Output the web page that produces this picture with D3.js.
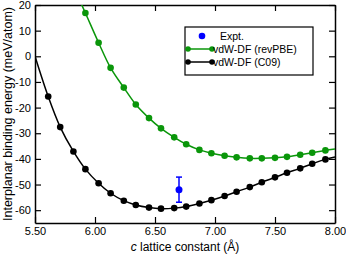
<!DOCTYPE html>
<html>
<head>
<meta charset="utf-8">
<script src="https://cdn.jsdelivr.net/npm/d3@7"></script>
<style>
  html, body { margin: 0; padding: 0; background: #fff; }
  svg { display: block; }
</style>
</head>
<body>
<div id="chart"></div>
<script>
// values
const c09X = [5.61, 5.71, 5.82, 5.92, 6.03, 6.13, 6.24, 6.34, 6.45, 6.55, 6.66, 6.76, 6.87, 6.97, 7.08, 7.18, 7.29, 7.39, 7.50, 7.60, 7.71, 7.81, 7.92];
const c09Y = [-15.7, -27.6, -37.1, -44.0, -49.5, -53.4, -56.3, -58.0, -59.0, -59.4, -59.2, -58.6, -57.4, -56.1, -54.5, -52.8, -51.0, -49.1, -47.2, -45.4, -43.7, -41.9, -40.2];
// where the C09 fitted curve meets the frame
const c09Edge = [[5.50, 0.0], [8.00, -39.3]];

const revX = [5.92, 6.03, 6.13, 6.24, 6.34, 6.45, 6.55, 6.66, 6.76, 6.87, 6.97, 7.08, 7.18, 7.29, 7.39, 7.50, 7.60, 7.71, 7.81, 7.92];
const revY = [16.9, 5.3, -4.5, -12.2, -18.8, -24.1, -28.1, -31.6, -34.3, -36.5, -37.8, -38.8, -39.4, -39.8, -39.8, -39.6, -39.2, -38.4, -37.6, -36.7];
const revEdge = [[5.88, 21.0], [8.00, -36.1]];

const exptX = [6.70];
const exptY = [-52.0];
const exptErr = [4.9];

const xTicks = [5.5, 6.0, 6.5, 7.0, 7.5, 8.0];
const yTicks = [-60, -50, -40, -30, -20, -10, 0, 10, 20];

const legendLabels = ['Expt.', 'vdW-DF (revPBE)', 'vdW-DF (C09)'];

const colors = { c09: '#000000', rev: '#0a960a', expt: '#0000ff' };

const width = 346, height = 255;
const margin = { top: 5, right: 11, bottom: 31, left: 35 };
const font = 'Liberation Sans, Arial, sans-serif';

const svg = d3.select('#chart').append('svg')
  .attr('width', width)
  .attr('height', height);

const x = d3.scaleLinear().domain([5.5, 8.0]).range([margin.left, width - margin.right]);
const y = d3.scaleLinear().domain([-65, 20]).range([height - margin.bottom - 1, margin.top]);

svg.append('defs').append('clipPath').attr('id', 'plot-clip')
  .append('rect')
  .attr('x', x(5.5)).attr('y', y(20))
  .attr('width', x(8.0) - x(5.5)).attr('height', y(-65) - y(20));

// axes: ticks inward, mirrored on top / right
const minorX = d3.range(5.5, 8.01, 0.25);
const minorY = d3.range(-65, 20.01, 5);

function tickAxis(axisFn, scale, ticks, size) {
  return axisFn(scale).tickValues(ticks).tickSizeInner(size).tickSizeOuter(0).tickFormat('');
}

const gx = svg.append('g').attr('transform', `translate(0,${y(-65)})`);
gx.call(tickAxis(d3.axisTop, x, minorX, 3));
gx.call(tickAxis(d3.axisTop, x, xTicks, 6));
const gxLab = svg.append('g').attr('transform', `translate(0,${y(-65)})`)
  .call(d3.axisBottom(x).tickValues(xTicks).tickSize(0).tickPadding(4).tickFormat(d3.format('.2f')));
gxLab.select('.domain').remove();

const gxTop = svg.append('g').attr('transform', `translate(0,${y(20)})`);
gxTop.call(tickAxis(d3.axisBottom, x, minorX, 3));
gxTop.call(tickAxis(d3.axisBottom, x, xTicks, 6));

const gy = svg.append('g').attr('transform', `translate(${x(5.5)},0)`);
gy.call(tickAxis(d3.axisRight, y, minorY, 3));
gy.call(tickAxis(d3.axisRight, y, yTicks, 6));
const gyLab = svg.append('g').attr('transform', `translate(${x(5.5)},0)`)
  .call(d3.axisLeft(y).tickValues(yTicks).tickSize(0).tickPadding(4).tickFormat(d => String(d)));
gyLab.select('.domain').remove();

const gyRight = svg.append('g').attr('transform', `translate(${x(8.0)},0)`);
gyRight.call(tickAxis(d3.axisLeft, y, minorY, 3));
gyRight.call(tickAxis(d3.axisLeft, y, yTicks, 6));

svg.selectAll('.domain').attr('stroke', '#000').attr('stroke-width', 1.5);
svg.selectAll('.tick line').attr('stroke', '#000').attr('stroke-width', 1.2);
svg.selectAll('.tick text')
  .attr('fill', '#000')
  .attr('font-family', font)
  .attr('font-size', '11px');

// curves
const line = d3.line().x(d => x(d[0])).y(d => y(d[1])).curve(d3.curveCatmullRom.alpha(0.5));
const plot = svg.append('g').attr('clip-path', 'url(#plot-clip)');

const c09Pts = c09X.map((v, i) => [v, c09Y[i]]);
const revPts = revX.map((v, i) => [v, revY[i]]);

plot.append('path')
  .attr('d', line([c09Edge[0], ...c09Pts, c09Edge[1]]))
  .attr('fill', 'none').attr('stroke', colors.c09).attr('stroke-width', 1.5);
plot.append('path')
  .attr('d', line([revEdge[0], ...revPts, revEdge[1]]))
  .attr('fill', 'none').attr('stroke', colors.rev).attr('stroke-width', 1.5);

plot.append('g').selectAll('circle').data(revPts).enter().append('circle')
  .attr('cx', d => x(d[0])).attr('cy', d => y(d[1])).attr('r', 3.3)
  .attr('fill', colors.rev);
plot.append('g').selectAll('circle').data(c09Pts).enter().append('circle')
  .attr('cx', d => x(d[0])).attr('cy', d => y(d[1])).attr('r', 3.3)
  .attr('fill', colors.c09);

// experimental point with error bar
const expt = plot.append('g').selectAll('g')
  .data(exptX.map((v, i) => ({ x: v, y: exptY[i], e: exptErr[i] })))
  .enter().append('g').attr('stroke', colors.expt).attr('stroke-width', 1.5);
expt.append('line')
  .attr('x1', d => x(d.x)).attr('x2', d => x(d.x))
  .attr('y1', d => y(d.y + d.e)).attr('y2', d => y(d.y - d.e));
expt.append('line')
  .attr('x1', d => x(d.x) - 3).attr('x2', d => x(d.x) + 3)
  .attr('y1', d => y(d.y + d.e)).attr('y2', d => y(d.y + d.e));
expt.append('line')
  .attr('x1', d => x(d.x) - 3).attr('x2', d => x(d.x) + 3)
  .attr('y1', d => y(d.y - d.e)).attr('y2', d => y(d.y - d.e));
expt.append('circle')
  .attr('cx', d => x(d.x)).attr('cy', d => y(d.y)).attr('r', 3.5)
  .attr('fill', colors.expt).attr('stroke', 'none');

// legend
const legend = svg.append('g').attr('transform', 'translate(185,27)');
legend.append('rect')
  .attr('width', 128).attr('height', 48)
  .attr('fill', '#fff').attr('stroke', '#000').attr('stroke-width', 1.2);
const rows = legend.selectAll('g.row').data(legendLabels).enter().append('g')
  .attr('class', 'row')
  .attr('transform', (d, i) => `translate(0,${9 + i * 13})`);
rows.filter((d, i) => i === 0).append('circle')
  .attr('cx', 17).attr('cy', 0).attr('r', 3.3).attr('fill', colors.expt);
rows.filter((d, i) => i > 0).each(function (d, i) {
  const c = i === 0 ? colors.rev : colors.c09;
  const g = d3.select(this);
  g.append('line').attr('x1', 3).attr('x2', 27).attr('y1', 0).attr('y2', 0)
    .attr('stroke', c).attr('stroke-width', 1.5);
  g.append('circle').attr('cx', 3).attr('cy', 0).attr('r', 2.8).attr('fill', c);
  g.append('circle').attr('cx', 27).attr('cy', 0).attr('r', 2.8).attr('fill', c);
});
rows.append('text')
  .attr('x', (d, i) => i === 0 ? 35 : 28)
  .attr('dy', '0.35em')
  .attr('font-family', font).attr('font-size', '10.5px')
  .text(d => d);

// axis titles
svg.append('text')
  .attr('transform', `translate(12,${(y(20) + y(-65)) / 2}) rotate(-90)`)
  .attr('text-anchor', 'middle')
  .attr('font-family', font).attr('font-size', '12.5px')
  .text('Interplanar binding energy (meV/atom)');

const xt = svg.append('text')
  .attr('x', (x(5.5) + x(8.0)) / 2)
  .attr('y', 251)
  .attr('text-anchor', 'middle')
  .attr('font-family', font).attr('font-size', '12px');
xt.append('tspan').attr('font-style', 'italic').text('c');
xt.append('tspan').text(' lattice constant (Å)');
</script>
</body>
</html>
